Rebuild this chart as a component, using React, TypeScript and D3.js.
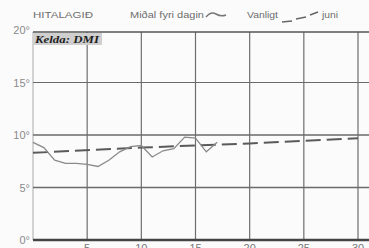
import React from 'react';
import * as d3 from 'd3';

// Faroese temperature chart for June
const days = [0, 1, 2, 3, 4, 5, 6, 7, 8, 9, 10, 11, 12, 13, 14, 15, 16, 17];
const dailyMean = [9.3, 8.8, 7.6, 7.3, 7.3, 7.2, 7.0, 7.6, 8.4, 8.9, 9.0, 7.9, 8.5, 8.7, 9.8, 9.7, 8.4, 9.3];
const normalDays = [0, 10, 20, 30];
const normalTemp = [8.3, 8.8, 9.2, 9.7];
const yTicks = [0, 5, 10, 15, 20];
const xTicks = [5, 10, 15, 20, 25, 30];

const W = 369;
const H = 248;
const left = 33;
const top = 30;
const bottom = 240;

const narrow = "'Liberation Sans Narrow', 'Liberation Sans', Arial, sans-serif";

export default function App() {
  const x = d3.scaleLinear().domain([0, 30]).range([left, 358]);
  const y = d3.scaleLinear().domain([0, 20]).range([bottom, top]);

  const meanLine = d3
    .line<number>()
    .x((_, i) => x(days[i]))
    .y((d) => y(d))
    .curve(d3.curveLinear);

  const normalLine = d3
    .line<number>()
    .x((_, i) => x(normalDays[i]))
    .y((d) => y(d));

  return (
    <svg
      width={W}
      height={H}
      style={{ position: 'fixed', left: 0, top: 0, background: '#fbfbfb' }}
      xmlns="http://www.w3.org/2000/svg"
    >
      {/* vertical grid */}
      {xTicks.map((t) => (
        <line key={'vx' + t} x1={x(t)} x2={x(t)} y1={y(20) + 2} y2={bottom} stroke="#6e6e6e" strokeWidth={1.2} />
      ))}
      <line x1={left} x2={left} y1={y(20) + 2} y2={bottom} stroke="#aaa" strokeWidth={1} />

      {/* horizontal grid */}
      {yTicks.slice(1, 4).map((t) => (
        <line key={'hy' + t} x1={left} x2={W} y1={y(t)} y2={y(t)} stroke="#6a6a6a" strokeWidth={t === 15 ? 1.2 : 1.6} />
      ))}
      <line x1={left} x2={W} y1={y(20) + 2} y2={y(20) + 2} stroke="#555" strokeWidth={1.5} />
      <line x1={left} x2={W} y1={bottom} y2={bottom} stroke="#444" strokeWidth={2.5} />

      {/* y labels */}
      {yTicks.map((t) => (
        <text key={'yl' + t} x={30} y={y(t) + 4} textAnchor="end" fontFamily={narrow} fontSize={11} fill="#8a8a8a">
          {t}°
        </text>
      ))}

      {/* x labels */}
      {xTicks.map((t) => (
        <text key={'xl' + t} x={x(t)} y={252} textAnchor="middle" fontFamily={narrow} fontSize={11} fill="#777">
          {t}
        </text>
      ))}

      {/* series */}
      <path d={normalLine(normalTemp) || ''} fill="none" stroke="#5a5a5a" strokeWidth={2} strokeDasharray="15 6" />
      <path d={meanLine(dailyMean) || ''} fill="none" stroke="#8a8a8a" strokeWidth={1.3} />

      {/* source */}
      <rect x={34} y={33} width={68} height={12} fill="#cfcfcf" />
      <text x={35} y={43} fontFamily="'Liberation Serif', serif" fontStyle="italic" fontWeight="bold" fontSize={11} fill="#1e1e1e" textLength={64} lengthAdjust="spacingAndGlyphs">
        Kelda: DMI
      </text>

      {/* title and legend */}
      <text x={33} y={18} fontFamily={narrow} fontSize={9} fill="#6e6e6e" textLength={60} lengthAdjust="spacingAndGlyphs">
        HITALAGIÐ
      </text>
      <text x={130} y={18} fontFamily={narrow} fontSize={9} fill="#6e6e6e" textLength={74} lengthAdjust="spacingAndGlyphs">
        Miðal fyri dagin
      </text>
      <path d="M206,17 Q211,11 216,14 T226,15" fill="none" stroke="#777" strokeWidth={1.5} />
      <text x={247} y={18} fontFamily={narrow} fontSize={9} fill="#6e6e6e" textLength={31} lengthAdjust="spacingAndGlyphs">
        Vanligt
      </text>
      <line x1={282} x2={292} y1={22} y2={21} stroke="#666" strokeWidth={1.5} />
      <line x1={296} x2={306} y1={19} y2={17} stroke="#666" strokeWidth={1.5} />
      <line x1={310} x2={318} y1={15} y2={12} stroke="#666" strokeWidth={1.5} />
      <text x={322} y={18} fontFamily={narrow} fontSize={9} fill="#6e6e6e" textLength={16} lengthAdjust="spacingAndGlyphs">
        juni
      </text>
    </svg>
  );
}
